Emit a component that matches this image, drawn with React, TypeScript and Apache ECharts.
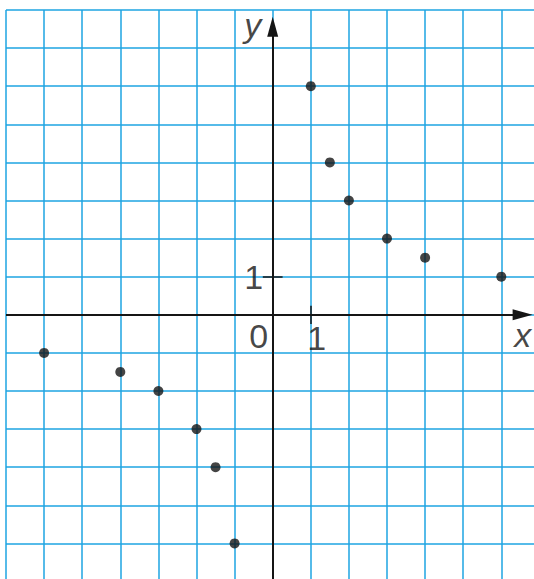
import React, { useEffect, useRef } from 'react';
import * as echarts from 'echarts';

// Data points (y = 6/x)
const xValues = [-6, -4, -3, -2, -1.5, -1, 1, 1.5, 2, 3, 4, 6];
const yValues = [-1, -1.5, -2, -3, -4, -6, 6, 4, 3, 2, 1.5, 1];

// Axis ranges of the grid paper
const xMin = -7;
const xMax = 7;
const yMin = -7;
const yMax = 8;
const gridStep = 1;

// Tick labels
const xTickValues = [1];
const yTickValues = [1];
const originLabel = '0';
const xAxisName = 'x';
const yAxisName = 'y';

// Arrow ends of the axes (in data units)
const xArrowEnd = 6.56;
const yArrowEnd = 7.56;

const GRID_COLOR = '#1ea4e2';
const INK = '#151515';
const FONT = '"Liberation Sans", Arial, sans-serif';

export default function App() {
  const ref = useRef<HTMLDivElement>(null);

  useEffect(() => {
    if (!ref.current) return;
    const chart = echarts.init(ref.current, undefined, { renderer: 'svg' });

    const points = xValues.map((x, i) => [x, yValues[i]]);

    const labelData: any[] = [];
    xTickValues.forEach((v) => {
      labelData.push({
        value: [v, 0],
        name: String(v),
        label: { offset: [6, 23] },
      });
    });
    yTickValues.forEach((v) => {
      labelData.push({
        value: [0, v],
        name: String(v),
        label: { offset: [-19, 0] },
      });
    });
    labelData.push({ value: [0, 0], name: originLabel, label: { offset: [-14, 21] } });
    labelData.push({
      value: [xArrowEnd, 0],
      name: xAxisName,
      label: { offset: [0, 20], fontStyle: 'italic' },
    });
    labelData.push({
      value: [0, yArrowEnd],
      name: yAxisName,
      label: { offset: [-20, -2], fontStyle: 'italic' },
    });

    const tickLines: any[] = [];
    xTickValues.forEach((v) => {
      tickLines.push([{ coord: [v, -0.24] }, { coord: [v, 0.24] }]);
    });
    yTickValues.forEach((v) => {
      tickLines.push([{ coord: [-0.26, v] }, { coord: [0.26, v] }]);
    });

    const option: any = {
      animation: false,
      backgroundColor: '#ffffff',
      grid: { left: 6, top: 10, width: 533.4, height: 571.5, containLabel: false },
      xAxis: {
        type: 'value',
        min: xMin,
        max: xMax,
        interval: gridStep,
        axisLine: { show: false },
        axisTick: { show: false },
        axisLabel: { show: false },
        splitLine: { show: true, showMinLine: true, showMaxLine: true, lineStyle: { color: GRID_COLOR, width: 1.5 } },
      },
      yAxis: {
        type: 'value',
        min: yMin,
        max: yMax,
        interval: gridStep,
        axisLine: { show: false },
        axisTick: { show: false },
        axisLabel: { show: false },
        splitLine: { show: true, showMinLine: true, showMaxLine: true, lineStyle: { color: GRID_COLOR, width: 1.5 } },
      },
      series: [
        {
          type: 'scatter',
          name: 'axes',
          data: [],
          silent: true,
          markLine: {
            silent: true,
            animation: false,
            symbol: ['none', 'triangle'],
            symbolSize: [11, 20],
            label: { show: false },
            lineStyle: { color: INK, width: 2, type: 'solid' },
            emphasis: { disabled: true },
            data: [
              [{ coord: [xMin, 0] }, { coord: [xArrowEnd, 0] }],
              [{ coord: [0, yMin] }, { coord: [0, yArrowEnd] }],
            ],
          },
        },
        {
          type: 'scatter',
          name: 'ticks',
          data: [],
          silent: true,
          markLine: {
            silent: true,
            animation: false,
            symbol: ['none', 'none'],
            label: { show: false },
            lineStyle: { color: INK, width: 1.5, type: 'solid' },
            emphasis: { disabled: true },
            data: tickLines,
          },
        },
        {
          type: 'scatter',
          name: 'points',
          data: points,
          symbol: 'circle',
          symbolSize: 10,
          itemStyle: { color: INK },
          silent: true,
          z: 5,
        },
        {
          type: 'scatter',
          name: 'labels',
          data: labelData,
          symbolSize: 0,
          silent: true,
          label: {
            show: true,
            position: 'inside',
            formatter: '{b}',
            color: INK,
            fontSize: 34,
            fontFamily: FONT,
            align: 'center',
            verticalAlign: 'middle',
          },
        },
      ],
    };

    chart.setOption(option);
    return () => chart.dispose();
  }, []);

  return (
    <div
      style={{ position: 'fixed', left: 0, top: 0, width: 534, height: 579, overflow: 'hidden', background: '#fff' }}
    >
      <div ref={ref} style={{ width: 560, height: 600 }} />
    </div>
  );
}
